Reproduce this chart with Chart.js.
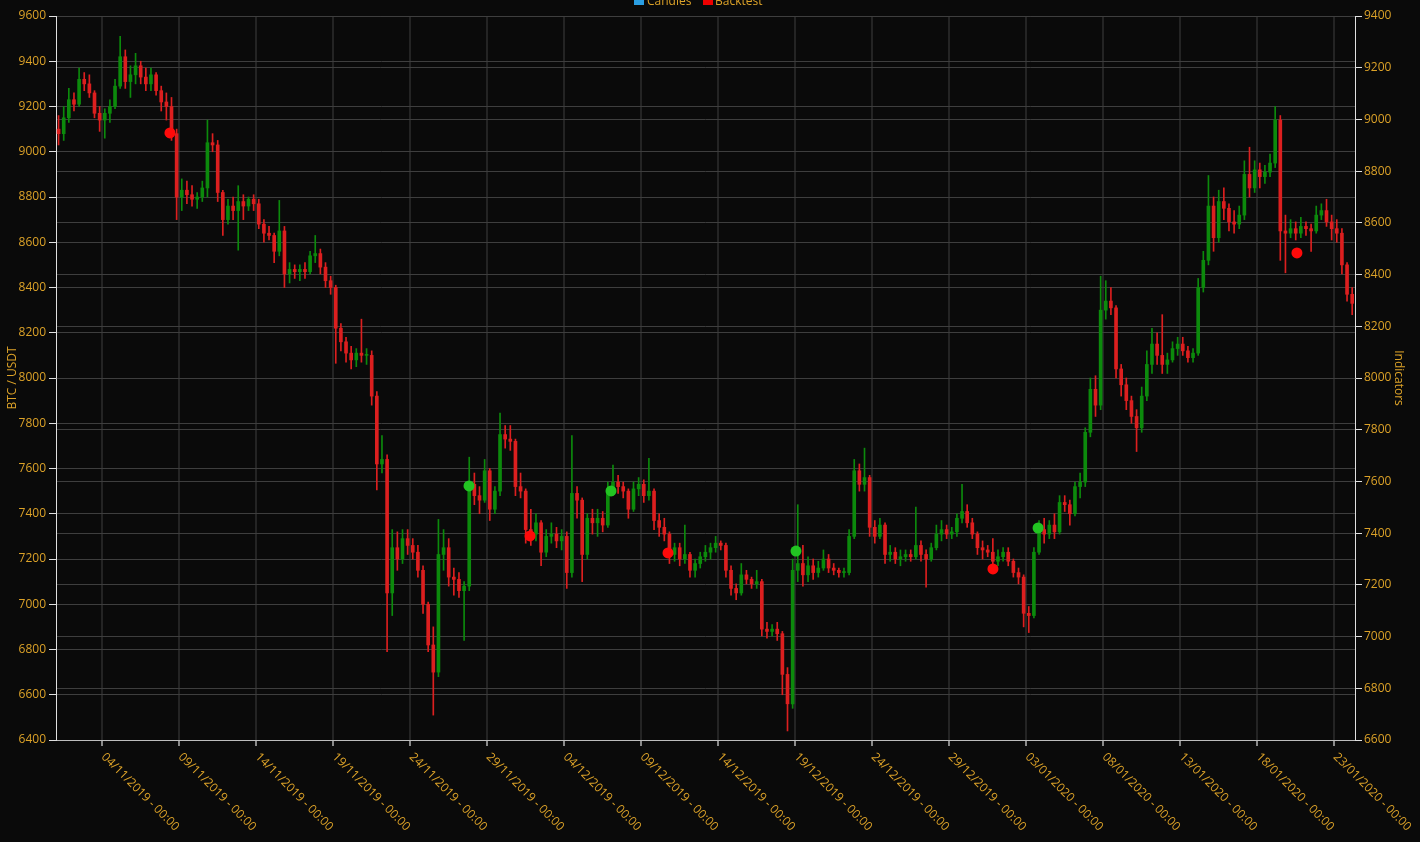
<!DOCTYPE html>
<html><head><meta charset="utf-8">
<script src="https://cdn.jsdelivr.net/npm/chart.js@4.4.1/dist/chart.umd.min.js"></script>
<style>html,body{margin:0;padding:0;background:#0a0a0a;overflow:hidden}canvas{display:block}</style>
</head><body>
<canvas id="c" width="1420" height="842"></canvas>
<script>
// Candles: 8-hour BTC/USDT candles starting 01/11/2019 00:00
const candleStartDay = 0;
const candleHours = 8;
const opens = [
9100,9080,9150,9230,9210,9320,9300,9260,9170,9140,
9170,9200,9290,9420,9310,9340,9380,9330,9300,9340,
9270,9220,9200,9080,8800,8830,8810,8790,8800,8840,
9040,9030,8820,8700,8760,8740,8780,8760,8790,8770,
8680,8640,8630,8560,8650,8460,8480,8470,8480,8470,
8540,8550,8490,8430,8400,8220,8160,8110,8080,8110,
8100,8100,7920,7620,7640,7050,7250,7200,7290,7260,
7230,7150,7000,6820,6700,7220,7250,7120,7110,7060,
7080,7530,7480,7460,7590,7420,7500,7750,7730,7720,
7520,7500,7330,7310,7360,7230,7300,7310,7280,7300,
7140,7490,7460,7220,7380,7360,7380,7350,7500,7540,
7520,7500,7420,7510,7530,7480,7500,7370,7340,7310,
7220,7250,7200,7220,7150,7180,7210,7230,7250,7270,
7260,7150,7070,7050,7130,7110,7090,7100,6890,6880,
6890,6870,6690,6560,7150,7180,7130,7170,7140,7160,
7200,7160,7150,7140,7140,7300,7590,7530,7560,7340,
7300,7350,7220,7230,7200,7210,7220,7210,7260,7220,
7200,7250,7310,7330,7310,7320,7380,7410,7360,7310,
7250,7240,7230,7190,7210,7230,7190,7140,7120,6960,
6950,7230,7330,7310,7350,7320,7450,7440,7400,7520,
7540,7760,7950,7880,8300,8340,8310,8040,7970,7900,
7830,7780,7920,8060,8150,8100,8060,8080,8130,8150,
8120,8090,8110,8400,8520,8760,8620,8780,8750,8690,
8680,8720,8900,8840,8920,8890,8910,8950,9140,8650,
8640,8660,8640,8670,8660,8650,8720,8740,8690,8660,
8640,8500,8370];
const highs = [
9160,9200,9280,9260,9370,9350,9340,9270,9200,9190,
9230,9320,9510,9450,9380,9435,9400,9370,9370,9350,
9290,9260,9240,9100,8880,8870,8850,8820,8870,9140,
9080,9050,8830,8790,8800,8850,8810,8800,8810,8790,
8700,8670,8640,8785,8670,8510,8500,8500,8510,8560,
8630,8570,8510,8450,8410,8240,8180,8140,8130,8260,
8130,8120,7940,7745,7660,7330,7320,7330,7330,7290,
7260,7170,7010,6900,7375,7330,7290,7160,7140,7100,
7650,7580,7520,7640,7600,7520,7845,7790,7790,7730,
7580,7510,7420,7400,7370,7330,7360,7340,7330,7320,
7745,7520,7470,7400,7420,7420,7410,7540,7615,7570,
7540,7510,7540,7560,7550,7645,7510,7400,7380,7320,
7270,7270,7350,7230,7200,7230,7260,7270,7300,7280,
7270,7170,7090,7180,7150,7120,7150,7110,6920,6910,
6920,6880,6720,7200,7440,7260,7210,7200,7190,7240,
7220,7180,7160,7160,7330,7640,7620,7690,7570,7370,
7380,7360,7260,7250,7240,7240,7240,7430,7280,7240,
7270,7350,7370,7350,7340,7400,7530,7440,7380,7320,
7280,7260,7290,7240,7250,7250,7200,7160,7130,6990,
7250,7370,7380,7370,7400,7480,7480,7460,7540,7580,
7780,8000,8010,8450,8430,8400,8320,8060,8000,7920,
7860,7960,8120,8220,8200,8280,8110,8160,8180,8180,
8140,8130,8440,8560,8895,8800,8830,8840,8770,8740,
8760,8960,9020,8960,8950,8940,8990,9200,9160,8720,
8700,8690,8710,8690,8680,8760,8770,8790,8720,8700,
8660,8510,8400];
const lows = [
9030,9050,9130,9180,9200,9270,9240,9150,9090,9060,
9130,9190,9280,9280,9240,9300,9300,9270,9270,9250,
9180,9140,9050,8700,8740,8770,8760,8750,8780,8800,
9000,8780,8630,8680,8700,8565,8700,8740,8740,8660,
8600,8610,8510,8540,8400,8420,8440,8430,8440,8460,
8510,8460,8400,8370,8065,8120,8070,8040,8050,8070,
8060,7880,7505,7580,6790,6950,7150,7180,7220,7200,
7120,6960,6790,6510,6680,7150,7080,7040,7030,6840,
7060,7440,7400,7450,7370,7400,7480,7690,7680,7480,
7470,7270,7260,7280,7170,7210,7270,7250,7240,7070,
7120,7380,7100,7200,7310,7300,7320,7340,7480,7490,
7470,7380,7410,7480,7450,7460,7330,7300,7280,7180,
7190,7170,7180,7120,7120,7160,7190,7200,7230,7240,
7120,7040,7020,7040,7090,7070,7070,6860,6850,6860,
6840,6600,6440,6540,7100,7080,7100,7110,7120,7150,
7140,7130,7120,7120,7130,7290,7500,7500,7300,7270,
7290,7180,7190,7180,7170,7190,7190,7200,7190,7075,
7190,7240,7280,7290,7290,7300,7360,7340,7290,7220,
7200,7210,7150,7170,7190,7170,7120,7090,6900,6875,
6940,7220,7270,7290,7290,7310,7410,7350,7390,7470,
7520,7740,7830,7860,8260,8280,8000,7920,7860,7800,
7675,7760,7900,8020,8060,8020,8020,8070,8100,8100,
8070,8070,8100,8380,8500,8560,8600,8700,8650,8640,
8660,8700,8800,8820,8840,8860,8890,8930,8520,8465,
8620,8610,8620,8630,8560,8640,8700,8670,8610,8600,
8460,8340,8280];
const closes = [
9080,9150,9230,9210,9320,9300,9260,9170,9140,9170,
9200,9290,9420,9310,9340,9380,9330,9300,9340,9270,
9220,9200,9080,8800,8830,8810,8790,8800,8840,9040,
9030,8820,8700,8760,8740,8780,8760,8790,8770,8680,
8640,8630,8560,8650,8460,8480,8470,8480,8470,8540,
8550,8490,8430,8400,8220,8160,8110,8080,8110,8100,
8100,7920,7620,7640,7050,7250,7200,7290,7260,7230,
7150,7000,6820,6700,7220,7250,7120,7110,7060,7080,
7530,7480,7460,7590,7420,7500,7750,7730,7720,7520,
7500,7330,7310,7360,7230,7300,7310,7280,7300,7140,
7490,7460,7220,7380,7360,7380,7350,7500,7540,7520,
7500,7420,7510,7530,7480,7500,7370,7340,7310,7220,
7250,7200,7220,7150,7180,7210,7230,7250,7270,7260,
7150,7070,7050,7130,7110,7090,7100,6890,6880,6890,
6870,6690,6560,7150,7180,7130,7170,7140,7160,7200,
7160,7150,7140,7140,7300,7590,7530,7560,7340,7300,
7350,7220,7230,7200,7210,7220,7210,7260,7220,7200,
7250,7310,7330,7310,7320,7380,7410,7360,7310,7250,
7240,7230,7190,7210,7230,7190,7140,7120,6960,6950,
7230,7330,7310,7350,7320,7450,7440,7400,7520,7540,
7760,7950,7880,8300,8340,8310,8040,7970,7900,7830,
7780,7920,8060,8150,8100,8060,8080,8130,8150,8120,
8090,8110,8400,8520,8760,8620,8780,8750,8690,8680,
8720,8900,8840,8920,8890,8910,8950,9140,8650,8640,
8660,8640,8670,8660,8650,8720,8740,8690,8660,8640,
8500,8370,8330];

// Backtest trades (days since 01/11/2019 00:00)
const backtestDays   = [7.40, 26.82, 30.78, 36.04, 39.74, 48.05, 60.84, 63.77, 80.58];
const backtestPrices = [9083, 7523, 7302, 7501, 7227, 7235, 7156, 7337, 8553];
const backtestSides  = ['sell','buy','sell','buy','sell','buy','sell','buy','sell'];

// Axes
const xTickDays = [3,8,13,18,23,28,33,38,43,48,53,58,63,68,73,78,83];
const xTickLabels = ['04/11/2019 - 00:00','09/11/2019 - 00:00','14/11/2019 - 00:00','19/11/2019 - 00:00',
 '24/11/2019 - 00:00','29/11/2019 - 00:00','04/12/2019 - 00:00','09/12/2019 - 00:00','14/12/2019 - 00:00',
 '19/12/2019 - 00:00','24/12/2019 - 00:00','29/12/2019 - 00:00','03/01/2020 - 00:00','08/01/2020 - 00:00',
 '13/01/2020 - 00:00','18/01/2020 - 00:00','23/01/2020 - 00:00'];
const xRange = [0, 84.35];
const priceRange = [6400, 9600];
const indicatorRange = [6600, 9400];
const tickStep = 200;
const legendLabels = ['Candles', 'Backtest'];

// Styles
const GOLD = '#dca228';
const UP = '#0c8a0c', DOWN = '#dc1f1f';
const BUY = '#22c422', SELL = '#ff0a0a';
const FONT = '"Open Sans", "Noto Sans", sans-serif';
Chart.defaults.font.family = FONT;
Chart.defaults.font.size = 12;
Chart.defaults.color = GOLD;

const step = candleHours / 24;
const candleX = opens.map((o, i) => candleStartDay + (i + 0.5) * step);
const candleColors = opens.map((o, i) => closes[i] >= o ? UP : DOWN);
const plainNumber = v => String(v);

const overlay = {
  id: 'overlay',
  afterDraw(chart) {
    const ctx = chart.ctx, xs = chart.scales.x;
    ctx.save();
    ctx.font = '12px ' + FONT;
    ctx.fillStyle = GOLD;
    ctx.textAlign = 'left';
    ctx.textBaseline = 'middle';
    xTickDays.forEach((d, i) => {
      const px = xs.getPixelForValue(d);
      ctx.save();
      ctx.translate(px + 1, xs.top + 15);
      ctx.rotate(Math.PI / 4);
      ctx.fillText(xTickLabels[i], 0, 0);
      ctx.restore();
    });
    // legend (partly above the top edge, as in the original)
    ctx.textBaseline = 'alphabetic';
    ctx.fillStyle = '#2a9ee2';
    ctx.fillRect(634, -5, 10, 10);
    ctx.fillStyle = GOLD;
    ctx.fillText(legendLabels[0], 647, 5);
    ctx.fillStyle = '#ee0000';
    ctx.fillRect(703, -5, 10, 10);
    ctx.fillStyle = GOLD;
    ctx.fillText(legendLabels[1], 715, 5);
    ctx.restore();
  }
};

new Chart(document.getElementById('c'), {
  type: 'bar',
  data: {
    datasets: [
      {
        type: 'scatter', label: 'Backtest', order: 0,
        data: backtestDays.map((d, i) => ({x: d, y: backtestPrices[i]})),
        pointRadius: 5.5, pointHoverRadius: 5.5, pointBorderWidth: 0,
        pointBackgroundColor: backtestSides.map(s => s === 'buy' ? BUY : SELL),
        yAxisID: 'y'
      },
      {
        label: 'Candles', order: 1, grouped: false,
        data: candleX.map((x, i) => ({x, y: [opens[i], closes[i]]})),
        backgroundColor: candleColors, borderWidth: 0,
        barThickness: 3, minBarLength: 1, yAxisID: 'y'
      },
      {
        label: 'Candles wick', order: 2, grouped: false,
        data: candleX.map((x, i) => ({x, y: [lows[i], highs[i]]})),
        backgroundColor: candleColors, borderWidth: 0,
        barThickness: 1, yAxisID: 'y'
      }
    ]
  },
  options: {
    responsive: false, animation: false, devicePixelRatio: 1,
    layout: {padding: {top: 16, left: 0, right: 0, bottom: 0}},
    plugins: {legend: {display: false}, tooltip: {enabled: false}},
    scales: {
      x: {
        type: 'linear', min: xRange[0], max: xRange[1], offset: false,
        afterBuildTicks: s => { s.ticks = xTickDays.map(v => ({value: v})); },
        afterFit: s => { s.height = 102; },
        ticks: {display: false},
        grid: {offset: false, color: '#242424', lineWidth: 2, tickColor: '#8a8a8a', tickLength: 6, tickWidth: 2},
        border: {color: '#bdbdbd', width: 1}
      },
      y: {
        position: 'left', min: priceRange[0], max: priceRange[1],
        afterFit: s => { s.width = 56; },
        ticks: {stepSize: tickStep, color: GOLD, padding: 3, font: {size: 12}, callback: plainNumber},
        grid: {color: '#3e3e3e', lineWidth: 1, tickColor: '#e0e0e0', tickLength: 7},
        border: {color: '#e0e0e0', width: 1},
        title: {display: true, text: 'BTC / USDT', color: GOLD, font: {size: 12}, padding: {top: 5, bottom: 0}}
      },
      y1: {
        position: 'right', min: indicatorRange[0], max: indicatorRange[1],
        afterFit: s => { s.width = 65; },
        ticks: {stepSize: tickStep, color: GOLD, padding: 2, font: {size: 12}, callback: plainNumber},
        grid: {color: '#3e3e3e', lineWidth: 1, tickColor: '#e0e0e0', tickLength: 7},
        border: {color: '#e0e0e0', width: 1},
        title: {display: true, text: 'Indicators', color: GOLD, font: {size: 12}, padding: {top: 14, bottom: 0}}
      }
    }
  },
  plugins: [overlay]
});
</script>
</body></html>
